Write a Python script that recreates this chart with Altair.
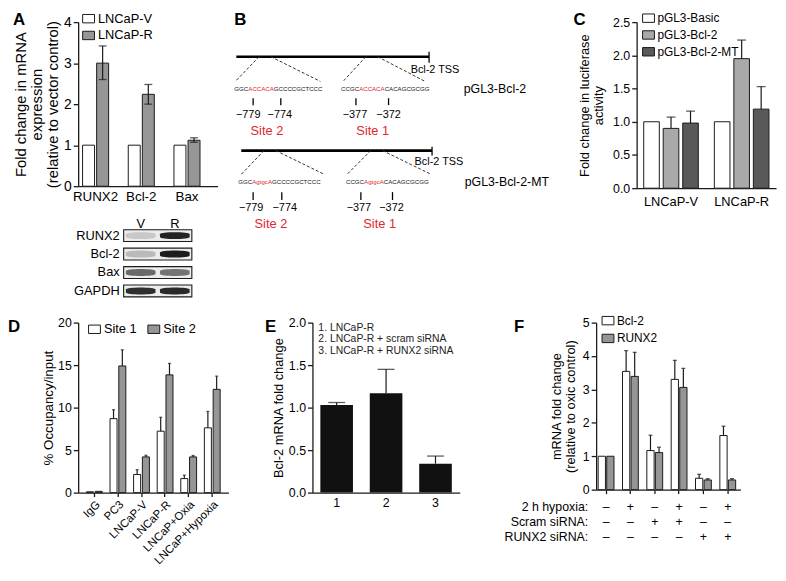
import altair as alt
import pandas as pd

FONT = "Liberation Sans"
INK = "#1a1a1a"
GREY = "#969696"
RED = "#e0282e"
DEBUG = False

# ---------------- Panel A data ----------------
a_genes = ["RUNX2", "Bcl-2", "Bax"]
a_cond = ["LNCaP-V", "LNCaP-R"]
a_v = [1.0, 1.0, 1.0]
a_r = [3.0, 2.24, 1.12]
a_r_lo = [2.60, 2.00, 1.07]
a_r_hi = [3.42, 2.48, 1.18]
a_title = ["Fold change in mRNA", "expression", "(relative to vector control)"]

blot_rows = ["RUNX2", "Bcl-2", "Bax", "GAPDH"]
blot_lanes = ["V", "R"]
blot_v = [0.12, 0.18, 0.55, 0.85]
blot_r = [0.92, 0.96, 0.50, 0.88]

# ---------------- Panel B data ----------------
b_seq_wt = [["GGC", "ACCACA", "GCCCCGCTCCC"], ["CCGC", "ACCACA", "CACAGCGCGG"]]
b_seq_mt = [["GGC", "AgtgcA", "GCCCCGCTCCC"], ["CCGC", "AgtgcA", "CACAGCGCGG"]]
b_positions = ["\u2212779", "\u2212774", "\u2212377", "\u2212372"]
b_sites = ["Site 2", "Site 1"]
b_constructs = ["pGL3-Bcl-2", "pGL3-Bcl-2-MT"]
b_tss = "Bcl-2 TSS"

# ---------------- Panel C data ----------------
c_groups = ["LNCaP-V", "LNCaP-R"]
c_series = ["pGL3-Basic", "pGL3-Bcl-2", "pGL3-Bcl-2-MT"]
c_basic = [1.0, 1.0]
c_bcl2 = [0.90, 1.95]
c_bcl2_hi = [1.07, 2.23]
c_mt = [0.98, 1.19]
c_mt_hi = [1.16, 1.53]

# ---------------- Panel D data ----------------
d_groups = ["IgG", "PC3", "LNCaP-V", "LNCaP-R", "LNCaP+Oxia", "LNCaP+Hypoxia"]
d_series = ["Site 1", "Site 2"]
d_site1 = [0.10, 8.70, 2.13, 7.23, 1.65, 7.62]
d_site1_hi = [None, 9.75, 2.70, 8.86, 2.05, 9.55]
d_site2 = [0.15, 14.90, 4.20, 13.85, 4.20, 12.15]
d_site2_hi = [None, 16.80, 4.40, 15.20, 4.37, 13.70]

# ---------------- Panel E data ----------------
e_groups = ["1", "2", "3"]
e_vals = [1.03, 1.17, 0.34]
e_hi = [1.06, 1.45, 0.43]
e_legend = ["1. LNCaP-R", "2. LNCaP-R + scram siRNA", "3. LNCaP-R + RUNX2 siRNA"]

# ---------------- Panel F data ----------------
f_groups = ["g1", "g2", "g3", "g4", "g5", "g6"]
f_series = ["Bcl-2", "RUNX2"]
f_bcl2 = [1.0, 3.54, 1.17, 3.30, 0.34, 1.62]
f_bcl2_hi = [None, 4.16, 1.63, 3.87, 0.46, 1.90]
f_runx2 = [1.0, 3.39, 1.11, 3.06, 0.29, 0.29]
f_runx2_hi = [None, 4.11, 1.27, 3.63, 0.33, 0.33]
f_rows = ["2 h hypoxia:", "Scram siRNA:", "RUNX2 siRNA:"]
f_hypoxia = ["\u2013", "+", "\u2013", "+", "\u2013", "+"]
f_scram = ["\u2013", "\u2013", "+", "+", "\u2013", "\u2013"]
f_runx2si = ["\u2013", "\u2013", "\u2013", "\u2013", "+", "+"]

# ---------------- helpers ----------------
ONE = pd.DataFrame({"k": [0]})
RECT = "M-1.2,-0.85L1.2,-0.85L1.2,0.85L-1.2,0.85Z"
BAND = "M-1,-0.1C-1,-0.28 1,-0.28 1,-0.1L1,0.1C1,0.28 -1,0.28 -1,0.1Z"
T1 = 10   # space above the plot area in the top row
T2 = 21   # space above the plot area in the bottom row
ROW1_H = 293


def bbox(l, t, r, b):
    if DEBUG:
        m = alt.Chart(ONE).mark_rect(fillOpacity=0, stroke="magenta", strokeWidth=1)
    else:
        m = alt.Chart(ONE).mark_rect(opacity=0)
    return m.encode(x=alt.value(l), x2=alt.value(r), y=alt.value(t), y2=alt.value(b))


def letter(s, x, y):
    return alt.Chart(ONE).mark_text(text=s, font=FONT, fontSize=17, fontWeight="bold",
                                    align="left", baseline="alphabetic", color="black").encode(
        x=alt.value(x), y=alt.value(y))


def legend(x, y, fs=12.5, rowpad=4, direction="vertical", colpad=8):
    return alt.Legend(title=None, orient="none", legendX=x, legendY=y, direction=direction,
                      symbolType=RECT, symbolSize=100, symbolStrokeColor=INK,
                      symbolStrokeWidth=1, labelFontSize=fs, labelFont=FONT, labelColor="black",
                      rowPadding=rowpad, columnPadding=colpad, labelOffset=3, padding=0,
                      symbolOpacity=1)


def yenc(field, domain, values, title, fmt, fs=12.5, tfs=13, tpad=3, tlh=15):
    return alt.Y(f"{field}:Q", scale=alt.Scale(domain=domain, nice=False),
                 axis=alt.Axis(values=values, title=title, format=fmt, labelFontSize=fs,
                               titleFontSize=tfs, titlePadding=tpad, titleLineHeight=tlh,
                               tickSize=5, labelPadding=2, labelOverlap=False, tickCount=len(values)))


def err_layers(df, gfield, gsort, ofield, osort, cap, ykw, both=False):
    enc = dict(x=alt.X(f"{gfield}:N", sort=gsort))
    if ofield is not None:
        enc["xOffset"] = alt.XOffset(f"{ofield}:N", sort=osort)
    base = alt.Chart(df).encode(**enc)
    out = [base.mark_rule(color=INK, strokeWidth=1.2).encode(y=yenc("lo", **ykw), y2="hi:Q"),
           base.mark_tick(color=INK, size=cap, thickness=1.3).encode(y=yenc("hi", **ykw))]
    if both:
        out.append(base.mark_tick(color=INK, size=cap, thickness=1.3).encode(y=yenc("lo", **ykw)))
    return out


def indep(c):
    return c.resolve_scale(color="independent", xOffset="independent").resolve_legend(color="independent")


# ================= Panel A (bars + blot) =================
WA, HA = 141, 166
dfA = pd.DataFrame({"gene": a_genes * 2, "cond": [a_cond[0]] * 3 + [a_cond[1]] * 3, "val": a_v + a_r})
errA = pd.DataFrame({"gene": a_genes, "cond": [a_cond[1]] * 3, "lo": a_r_lo, "hi": a_r_hi})
ykA = dict(domain=[0, 4], values=[0, 1, 2, 3, 4], title=a_title, fmt="d", fs=14, tfs=15, tpad=3, tlh=16)
barsA = alt.Chart(dfA).mark_bar(stroke=INK, strokeWidth=1).encode(
    x=alt.X("gene:N", sort=a_genes,
            scale=alt.Scale(paddingInner=0.43, paddingOuter=0.24, align=0.2),
            axis=alt.Axis(title=None, ticks=False, labelAngle=0, labelFontSize=13.5, labelPadding=3)),
    xOffset=alt.XOffset("cond:N", sort=a_cond, scale=alt.Scale(paddingInner=0.15, paddingOuter=0)),
    y=yenc("val", **ykA),
    color=alt.Color("cond:N", sort=a_cond, scale=alt.Scale(domain=a_cond, range=["white", GREY]),
                    legend=legend(4, -T1, fs=13, rowpad=3)),
)
A_main = alt.layer(barsA, *err_layers(errA, "gene", a_genes, "cond", a_cond, 8, ykA, both=True))

# blot drawn below the bar plot, on its own scales
BL_X = [46, 115]                 # blot frame, px from the plot's left edge
BL_Y = [220 - T1, 288 - T1]      # blot rows, px from the plot's top edge
blot_df = pd.DataFrame({"protein": blot_rows * 2, "lane": ["V"] * 4 + ["R"] * 4, "dark": blot_v + blot_r})
yBl = alt.Y("protein:N", sort=blot_rows,
            scale=alt.Scale(range=BL_Y, paddingInner=0.357, paddingOuter=0), axis=None)
xBl = alt.X("lane:N", sort=blot_lanes,
            scale=alt.Scale(range=BL_X, paddingInner=0.06, paddingOuter=0.03), axis=None)
frame = alt.Chart(pd.DataFrame({"protein": blot_rows})).mark_rect(
    fill="#ececec", stroke=INK, strokeWidth=1.1).encode(x=alt.value(BL_X[0]), x2=alt.value(BL_X[1]), y=yBl)
bands = alt.Chart(blot_df).mark_point(shape=BAND, size=900, filled=True, opacity=0.95).encode(
    x=xBl, y=yBl,
    color=alt.Color("dark:Q", scale=alt.Scale(domain=[0, 1], range=["#e4e4e4", "#050505"]), legend=None),
)
rowlab = alt.Chart(pd.DataFrame({"protein": blot_rows})).mark_text(
    align="right", baseline="middle", fontSize=13, color="black").encode(
    x=alt.value(BL_X[0] - 4), y=yBl, text="protein:N")
lanelab = alt.Chart(pd.DataFrame({"lane": blot_lanes})).mark_text(
    align="center", baseline="middle", fontSize=13, color="black").encode(
    x=xBl, y=alt.value(BL_Y[0] - 6), text="lane:N")
blot = alt.layer(frame, bands, rowlab, lanelab)

panelA = alt.layer(bbox(-66, -T1, 152, ROW1_H - T1), A_main, blot, letter("A", -66, 3)).resolve_scale(
    x="independent", y="independent", color="independent").properties(width=WA, height=HA)

# ================= Panel B (diagram) =================
WBd = 338
HBd = ROW1_H - T1
SEQ_FS = 6.2
AW = {"G": .778, "C": .722, "A": .667, "T": .611, "g": .556, "t": .278, "c": .5}


def tw(s, fs):
    return sum(AW[ch] for ch in s) * fs


blocks = [
    dict(seqs=b_seq_wt, name=b_constructs[0], line=(8, 203, 45), tss=(40, 51), tss_lbl=(183, 58),
         dashes=[(31, 45, 8, 69), (43, 45, 93, 70), (139, 45, 116, 70), (151, 45, 199, 70)],
         seq_x=[6, 114], seq_y=78, ticks_x=[25, 53, 129, 162], tick_y=(87, 94),
         pos_x=[20, 52, 128, 162], pos_y=104, site_x=[39, 146], site_y=120, lbl=(238, 78)),
    dict(seqs=b_seq_mt, name=b_constructs[1], line=(13, 206, 140), tss=(136, 145), tss_lbl=(187, 152),
         dashes=[(36, 140, 13, 164), (48, 140, 97, 164), (144, 140, 120, 164), (156, 140, 205, 164)],
         seq_x=[10, 119], seq_y=172, ticks_x=[25, 54, 134, 166], tick_y=(182, 190),
         pos_x=[23, 57, 132, 165], pos_y=198, site_x=[43, 153], site_y=214, lbl=(239, 172)),
]

thick, thin, dashed, seqtxt, smalltxt, sitetxt, bigtxt = [], [], [], [], [], [], []
for bl in blocks:
    x0, x1, yl = bl["line"]
    thick.append(dict(x=x0, x2=x1, y=yl, y2=yl))
    thin.append(dict(x=x1, x2=x1, y=bl["tss"][0], y2=bl["tss"][1]))
    for tx in bl["ticks_x"]:
        thin.append(dict(x=tx, x2=tx, y=bl["tick_y"][0], y2=bl["tick_y"][1]))
    for (xa, ya, xb, yb) in bl["dashes"]:
        dashed.append(dict(x=xa, y=ya, x2=xb, y2=yb))
    for parts, sx in zip(bl["seqs"], bl["seq_x"]):
        cx = sx
        for i, p in enumerate(parts):
            seqtxt.append(dict(x=cx, y=bl["seq_y"], t=p, c=RED if i == 1 else INK))
            cx += tw(p, SEQ_FS)
    for p, px in zip(b_positions, bl["pos_x"]):
        smalltxt.append(dict(x=px, y=bl["pos_y"], t=p))
    for s, sx in zip(b_sites, bl["site_x"]):
        sitetxt.append(dict(x=sx, y=bl["site_y"], t=s))
    bigtxt.append(dict(x=bl["lbl"][0], y=bl["lbl"][1], t=bl["name"]))
    smalltxt.append(dict(x=bl["tss_lbl"][0] + 26, y=bl["tss_lbl"][1], t=b_tss))

xsB = alt.Scale(domain=[0, WBd], nice=False, zero=False)
ysB = alt.Scale(domain=[T1, ROW1_H], nice=False, zero=False, reverse=True)


def bx(f="x"):
    return alt.X(f"{f}:Q", scale=xsB, axis=None)


def by(f="y"):
    return alt.Y(f"{f}:Q", scale=ysB, axis=None)


B_layers = [
    bbox(0, -T1, WBd, HBd),
    alt.Chart(pd.DataFrame(thick)).mark_rule(color="black", strokeWidth=2.6).encode(
        x=bx(), y=by(), x2="x2:Q", y2="y2:Q"),
    alt.Chart(pd.DataFrame(thin)).mark_rule(color="black", strokeWidth=1.3).encode(
        x=bx(), y=by(), x2="x2:Q", y2="y2:Q"),
    alt.Chart(pd.DataFrame(dashed)).mark_rule(color="#333", strokeWidth=1, strokeDash=[3, 2]).encode(
        x=bx(), y=by(), x2="x2:Q", y2="y2:Q"),
    alt.Chart(pd.DataFrame(seqtxt)).mark_text(fontSize=SEQ_FS, align="left", baseline="middle").encode(
        x=bx(), y=by(), text="t:N", color=alt.Color("c:N", scale=None)),
    alt.Chart(pd.DataFrame(smalltxt)).mark_text(fontSize=11, align="center", baseline="middle",
                                               color="black").encode(x=bx(), y=by(), text="t:N"),
    alt.Chart(pd.DataFrame(sitetxt)).mark_text(fontSize=13, align="center", baseline="middle",
                                              color=RED).encode(x=bx(), y=by(), text="t:N"),
    alt.Chart(pd.DataFrame(bigtxt)).mark_text(fontSize=12.5, align="left", baseline="middle",
                                             color="black").encode(x=bx(), y=by(), text="t:N"),
    letter("B", 6, 3),
]
panelB = alt.layer(*B_layers).properties(width=WBd, height=HBd)

# ================= Panel C =================
WC, HC = 141, 168
dfC = pd.DataFrame({"grp": c_groups * 3, "ser": [s for s in c_series for _ in c_groups],
                    "val": c_basic + c_bcl2 + c_mt})
errC = pd.DataFrame({"grp": c_groups * 2, "ser": [c_series[1]] * 2 + [c_series[2]] * 2,
                     "lo": c_bcl2 + c_mt, "hi": c_bcl2_hi + c_mt_hi})
ykC = dict(domain=[0, 2.5], values=[0, 0.5, 1, 1.5, 2, 2.5], title=["Fold change in luciferase", "activity"],
           fmt=".1f", fs=12.5, tfs=13, tpad=7, tlh=14)
barsC = alt.Chart(dfC).mark_bar(stroke=INK, strokeWidth=1).encode(
    x=alt.X("grp:N", sort=c_groups, scale=alt.Scale(paddingInner=0.227, paddingOuter=0.1),
            axis=alt.Axis(title=None, ticks=False, labelAngle=0, labelFontSize=13, labelPadding=8)),
    xOffset=alt.XOffset("ser:N", sort=c_series, scale=alt.Scale(paddingInner=0.2, paddingOuter=0)),
    y=yenc("val", **ykC),
    color=alt.Color("ser:N", sort=c_series,
                    scale=alt.Scale(domain=c_series, range=["white", "#a9a9a9", "#595959"]),
                    legend=legend(6, -T1, fs=12, rowpad=3)),
)
panelC = alt.layer(bbox(-75, -T1, 143, ROW1_H - T1), barsC,
                   *err_layers(errC, "grp", c_groups, "ser", c_series, 9, ykC),
                   letter("C", -64, 3)).properties(width=WC, height=HC)

# ================= Panel D =================
WD, HD = 152, 172
dfD = pd.DataFrame({"grp": d_groups * 2, "ser": [d_series[0]] * 6 + [d_series[1]] * 6,
                    "val": d_site1 + d_site2, "hi": d_site1_hi + d_site2_hi})
errD = dfD.dropna().rename(columns={"val": "lo"})
ykD = dict(domain=[0, 20], values=[0, 5, 10, 15, 20], title="% Occupancy/input", fmt="d",
           fs=12.5, tfs=13.5, tpad=2)
barsD = alt.Chart(dfD).mark_bar(stroke=INK, strokeWidth=1).encode(
    x=alt.X("grp:N", sort=d_groups, scale=alt.Scale(paddingInner=0.33, paddingOuter=0.35),
            axis=alt.Axis(title=None, ticks=True, tickSize=4, labelAngle=-45, labelFontSize=11.5,
                          labelPadding=2)),
    xOffset=alt.XOffset("ser:N", sort=d_series, scale=alt.Scale(paddingInner=0.2, paddingOuter=0)),
    y=yenc("val", **ykD),
    color=alt.Color("ser:N", sort=d_series, scale=alt.Scale(domain=d_series, range=["white", GREY]),
                    legend=legend(10, 0, fs=13, direction="horizontal", colpad=8)),
)
panelD = alt.layer(bbox(-71, -T2, 165, 242), barsD,
                   *err_layers(errD, "grp", d_groups, "ser", d_series, 3, ykD),
                   letter("D", -71, 9)).properties(width=WD, height=HD)

# ================= Panel E =================
WE, HE = 149, 172
dfE = pd.DataFrame({"grp": e_groups, "val": e_vals, "hi": e_hi})
ykE = dict(domain=[0, 2], values=[0, 0.5, 1, 1.5, 2], title="Bcl-2 mRNA fold change", fmt=".1f",
           fs=12.5, tfs=13, tpad=3)
barsE = alt.Chart(dfE).mark_bar(color="#111111").encode(
    x=alt.X("grp:N", sort=e_groups, scale=alt.Scale(paddingInner=0.34, paddingOuter=0.16),
            axis=alt.Axis(title=None, ticks=False, labelAngle=0, labelFontSize=12.5, labelPadding=4)),
    y=yenc("val", **ykE),
)
legE = alt.Chart(ONE).mark_text(text=e_legend, lineHeight=11.7, fontSize=10.5, align="left",
                                baseline="top", color="#222").encode(x=alt.value(6), y=alt.value(0))
panelE = alt.layer(bbox(-72, -T2, 162, 242), barsE,
                   *err_layers(dfE.rename(columns={"val": "lo"}), "grp", e_groups, None, None, 17, ykE),
                   legE, letter("E", -48, 9)).properties(width=WE, height=HE)

# ================= Panel F =================
WF, HF = 146, 169
dfF = pd.DataFrame({"grp": f_groups * 2, "ser": [f_series[0]] * 6 + [f_series[1]] * 6,
                    "val": f_bcl2 + f_runx2, "hi": f_bcl2_hi + f_runx2_hi})
errF = dfF.dropna().rename(columns={"val": "lo"})
ykF = dict(domain=[0, 5], values=[0, 1, 2, 3, 4, 5], title=["mRNA fold change", "(relative to oxic control)"],
           fmt="d", fs=12.5, tfs=13, tpad=5, tlh=14)
xF = alt.X("grp:N", sort=f_groups, scale=alt.Scale(paddingInner=0.35, paddingOuter=0.14, align=0.3),
           axis=alt.Axis(title=None, ticks=True, tickSize=4, labels=False))
barsF = alt.Chart(dfF).mark_bar(stroke=INK, strokeWidth=1).encode(
    x=xF,
    xOffset=alt.XOffset("ser:N", sort=f_series, scale=alt.Scale(paddingInner=0.15, paddingOuter=0)),
    y=yenc("val", **ykF),
    color=alt.Color("ser:N", sort=f_series, scale=alt.Scale(domain=f_series, range=["white", GREY]),
                    legend=legend(6, -8, fs=12, rowpad=4)),
)
ROW0 = HF + 12
sign_layers = []
for k, signs in enumerate([f_hypoxia, f_scram, f_runx2si]):
    sign_layers.append(
        alt.Chart(pd.DataFrame({"grp": f_groups, "s": signs})).mark_text(
            fontSize=12.5, baseline="top", align="center", color="black").encode(
            x=alt.X("grp:N", sort=f_groups), y=alt.value(ROW0 + 15 * k), text="s:N"))
rowsF = alt.Chart(ONE).mark_text(text=f_rows, lineHeight=15, fontSize=12.5, align="right",
                                 baseline="top", color="black").encode(x=alt.value(-8), y=alt.value(ROW0))
panelF = alt.layer(bbox(-125, -T2, 179, 242), barsF,
                   *err_layers(errF, "grp", f_groups, "ser", f_series, 4, ykF),
                   *sign_layers, rowsF, letter("F", -83, 9)).properties(width=WF, height=HF)

# ================= assemble =================
row1 = indep(alt.hconcat(panelA, panelB, panelC, spacing=0))
row2 = indep(alt.hconcat(panelD, panelE, panelF, spacing=0))
chart = indep(alt.vconcat(row1, row2, spacing=0)).properties(padding=0).configure(
    font=FONT).configure_view(stroke=None).configure_axis(
    domainColor=INK, tickColor=INK, domainWidth=1.3, tickWidth=1.3, labelColor="black",
    titleColor="black", labelFont=FONT, titleFont=FONT, titleFontWeight="normal", grid=False,
    labelOverlap=False
).configure_concat(spacing=0)

chart.save("out.html", embed_options={"renderer": "svg", "actions": False})
